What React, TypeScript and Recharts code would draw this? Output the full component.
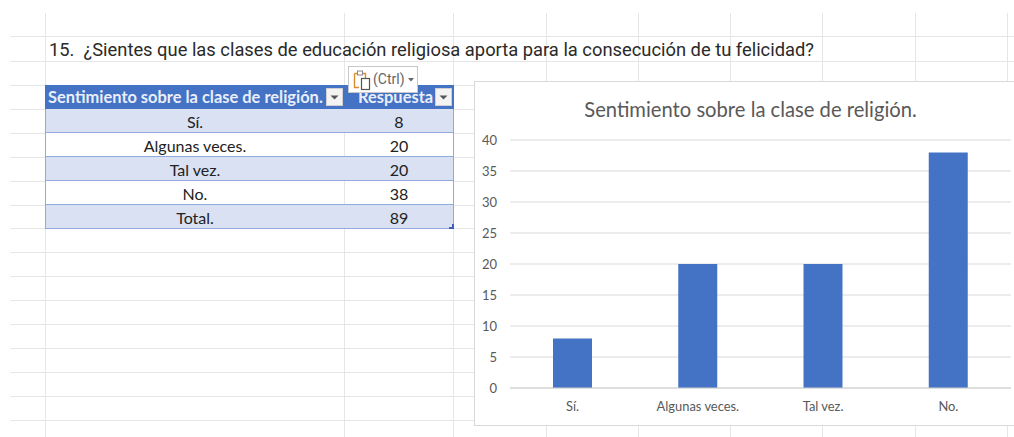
import { Bar, BarChart, CartesianGrid, XAxis, YAxis } from "recharts";

const QUESTION = "15.  ¿Sientes que las clases de educación religiosa aporta para la consecución de tu felicidad?";
const CHART_TITLE = "Sentimiento sobre la clase de religión.";
const HEADERS = ["Sentimiento sobre la clase de religión.", "Respuesta"];

const categories = ["Sí.", "Algunas veces.", "Tal vez.", "No."];
const responses = [8, 20, 20, 38];
const tableLabels = ["Sí.", "Algunas veces.", "Tal vez.", "No.", "Total."];
const tableValues = [8, 20, 20, 38, 89];
const yTicks = [0, 5, 10, 15, 20, 25, 30, 35, 40];

// sheet grid behind everything
const COLUMN_LINES = [45, 344, 453, 546, 638, 730, 822, 915, 1007];
const ROW_LINES = [36, 61, 85, 109, 133, 157, 181, 205, 228, 252, 276, 300, 324, 348, 372, 396, 420];

const GRID = "#e6e6e6";
const BLUE = "#4472C4";
const TABLE_BORDER = "#8EA9DB";
const STRIPE = "#D9E1F2";
const TABLE_FONT = "Lato, sans-serif";

const chartData = categories.map((name, i) => ({ name, value: responses[i] }));

function FilterButton({ left }: { left: number }) {
  return (
    <div
      style={{
        position: "absolute",
        left,
        top: 88,
        width: 17,
        height: 18,
        background: "#f3f3f3",
        border: "1px solid #d0d0d0",
        boxSizing: "border-box",
      }}
    >
      <svg width={15} height={16} style={{ display: "block" }}>
        <path d="M3.5 6.5 L11.5 6.5 L7.5 10.5 Z" fill="#555" />
      </svg>
    </div>
  );
}

function SheetTable() {
  return (
    <>
      <div style={{ position: "absolute", left: 45, top: 85, width: 409, height: 24, background: BLUE }} />
      <div
        style={{
          position: "absolute",
          left: 48,
          top: 85,
          height: 24,
          lineHeight: "25px",
          color: "#e9eefa",
          fontFamily: TABLE_FONT,
          fontWeight: 700,
          fontSize: 16.45,
          whiteSpace: "nowrap",
        }}
      >
        {HEADERS[0]}
      </div>
      <div
        style={{
          position: "absolute",
          left: 358,
          top: 85,
          height: 24,
          lineHeight: "25px",
          color: "#e9eefa",
          fontFamily: TABLE_FONT,
          fontWeight: 700,
          fontSize: 16.45,
          whiteSpace: "nowrap",
        }}
      >
        {HEADERS[1]}
      </div>
      <FilterButton left={326} />
      <FilterButton left={435} />
      {tableLabels.map((label, i) => (
        <div
          key={label}
          style={{
            position: "absolute",
            left: 45,
            top: 109 + i * 24,
            width: 409,
            height: 24,
            boxSizing: "border-box",
            background: i % 2 === 0 ? STRIPE : "#fff",
            borderLeft: `1px solid ${TABLE_BORDER}`,
            borderRight: `1px solid ${TABLE_BORDER}`,
            borderBottom: `1px solid ${TABLE_BORDER}`,
            fontFamily: TABLE_FONT,
            fontSize: 16,
            color: "#222",
            lineHeight: "26px",
          }}
        >
          <div style={{ position: "absolute", left: 0, width: 298, textAlign: "center" }}>{label}</div>
          <div style={{ position: "absolute", left: 298, width: 110, textAlign: "center" }}>{tableValues[i]}</div>
          {i % 2 === 1 && (
            <div style={{ position: "absolute", left: 298, top: 0, width: 1, height: 23, background: GRID }} />
          )}
        </div>
      ))}
      <svg width={5} height={5} style={{ position: "absolute", left: 449, top: 224 }}>
        <path d="M5 0 L5 5 L0 5 L0 3 L3 3 L3 0 Z" fill="#3f5fb5" />
      </svg>
    </>
  );
}

function PastePopup() {
  return (
    <div
      style={{
        position: "absolute",
        left: 348,
        top: 66,
        width: 70,
        height: 27,
        boxSizing: "border-box",
        background: "#fff",
        border: "1px solid #c8c8c8",
      }}
    >
      <svg width={20} height={22} style={{ position: "absolute", left: 4, top: 2 }}>
        <path d="M1.5 4.5 H12.5 V9 M6 18.5 H1.5 V4.5" fill="none" stroke="#e08a2e" strokeWidth={1.4} />
        <rect x={4.5} y={2} width={5} height={4} fill="#fff" stroke="#888" />
        <rect x={8.5} y={9.5} width={8} height={11} fill="#fff" stroke="#555" strokeWidth={1.2} />
      </svg>
      <div
        style={{
          position: "absolute",
          left: 24,
          top: 0,
          lineHeight: "25px",
          fontFamily: "Roboto, sans-serif",
          fontSize: 14,
          color: "#666",
        }}
      >
        (Ctrl)
      </div>
      <svg width={7} height={5} style={{ position: "absolute", left: 59, top: 11 }}>
        <path d="M0 0 L6 0 L3 3.5 Z" fill="#666" />
      </svg>
    </div>
  );
}

export default function App() {
  return (
    <div
      style={{
        position: "absolute",
        left: 0,
        top: 0,
        width: 1014,
        height: 437,
        overflow: "hidden",
        background: "#fff",
      }}
    >
      {COLUMN_LINES.map((x) => (
        <div key={x} style={{ position: "absolute", left: x, top: 13, width: 1, height: 424, background: GRID }} />
      ))}
      {ROW_LINES.map((y) => (
        <div key={y} style={{ position: "absolute", left: 10, top: y, width: 1004, height: 1, background: GRID }} />
      ))}

      <div
        style={{
          position: "absolute",
          left: 49,
          top: 38,
          lineHeight: "23px",
          fontFamily: "Roboto, sans-serif",
          fontSize: 18.34,
          color: "#2a2a2a",
          whiteSpace: "pre",
        }}
      >
        {QUESTION}
      </div>

      <SheetTable />
      <PastePopup />

      <div
        style={{
          position: "absolute",
          left: 474,
          top: 81,
          width: 540,
          height: 345,
          boxSizing: "border-box",
          background: "#fff",
          border: "1px solid #d9d9d9",
          borderRight: "none",
        }}
      />
      <div
        style={{
          position: "absolute",
          left: 474,
          top: 95,
          width: 553,
          textAlign: "center",
          lineHeight: "28px",
          fontFamily: TABLE_FONT,
          fontSize: 20.2,
          color: "#595959",
        }}
      >
        {CHART_TITLE}
      </div>
      <div style={{ position: "absolute", left: 474, top: 81 }}>
        <BarChart
          width={540}
          height={345}
          data={chartData}
          margin={{ top: 59, right: 3, bottom: 0, left: 0 }}
        >
          <CartesianGrid stroke="#d9d9d9" vertical={false} />
          <XAxis
            dataKey="name"
            height={38}
            tick={{ fill: "#595959", fontSize: 12.9, fontFamily: TABLE_FONT }}
            axisLine={{ stroke: "#d0d0d0" }}
            tickLine={false}
            interval={0}
            tickMargin={8}
          />
          <YAxis
            width={36}
            domain={[0, 40]}
            ticks={yTicks}
            tick={{ fill: "#595959", fontSize: 13, fontFamily: TABLE_FONT }}
            axisLine={false}
            tickLine={false}
            tickMargin={7}
          />
          <Bar dataKey="value" fill={BLUE} barSize={39} isAnimationActive={false} />
        </BarChart>
      </div>
    </div>
  );
}
